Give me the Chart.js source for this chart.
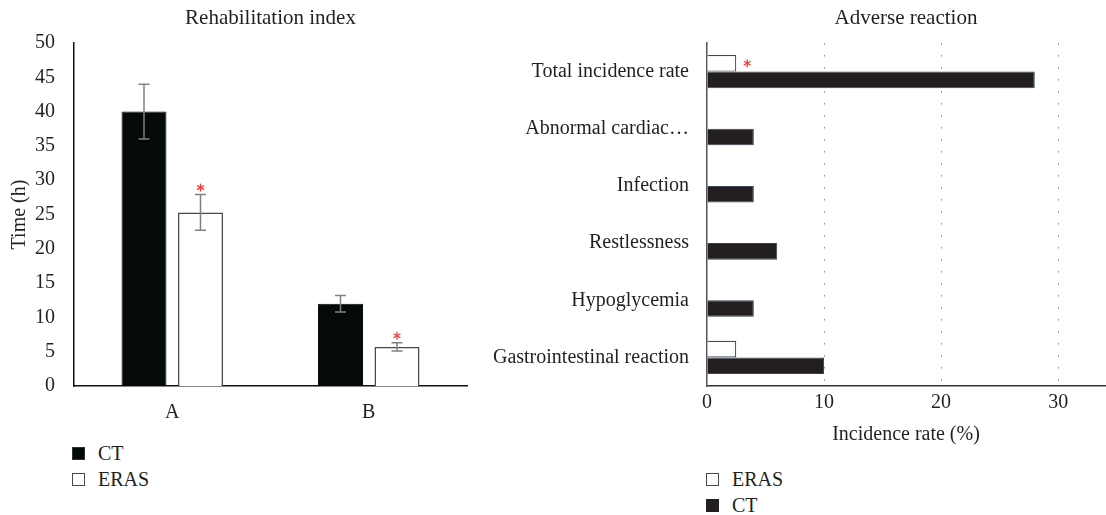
<!DOCTYPE html>
<html lang="en">
<head>
<meta charset="UTF-8">
<title>Rehabilitation index / Adverse reaction</title>
<script src="https://cdn.jsdelivr.net/npm/chart.js"></script>
<style>
  body { margin: 0; background: #fff; }
  .panel { position: absolute; top: 0; }
  .legend { position: absolute; font: 20px "Liberation Serif", serif; color: #231f20; }
  .legend div { display: flex; align-items: center; height: 26px; }
  .legend span.box { width: 11px; height: 11px; border: 1.5px solid #3e4b56; margin-right: 13px; }
</style>
</head>
<body>
<div class="panel" style="left:0; width:480px; height:425px;"><canvas id="rehabChart"></canvas></div>
<div class="panel" style="left:480px; width:626px; height:450px;"><canvas id="adverseChart"></canvas></div>
<div class="legend" id="rehabLegend" style="left:72px; top:440px;"></div>
<div class="legend" id="adverseLegend" style="left:706px; top:466px;"></div>

<script>
// Rehabilitation index (hours)
const rehabCategories = ['A', 'B'];
const rehabCT = [40, 12];
const rehabCTErr = [4, 1.2];
const rehabERAS = [25.3, 5.7];
const rehabERASErr = [2.6, 0.6];
const rehabERASSig = [true, true];
const rehabTicks = [0, 5, 10, 15, 20, 25, 30, 35, 40, 45, 50];

// Adverse reaction (%)
const adverseCategories = ['Total incidence rate', 'Abnormal cardiac…', 'Infection', 'Restlessness', 'Hypoglycemia', 'Gastrointestinal reaction'];
const adverseERAS = [2.5, 0, 0, 0, 0, 2.5];
const adverseCT = [28, 4, 4, 6, 4, 10];
const adverseERASSig = [true, false, false, false, false, false];
const adverseTicks = [0, 10, 20, 30];

const FONT = '"Liberation Serif", serif';
const TEXT = '#231f20';

// red six-armed asterisk
function drawStar(ctx, x, y) {
  ctx.save();
  ctx.strokeStyle = '#e8412f';
  ctx.lineWidth = 1.3;
  const r = 4;
  for (let k = 0; k < 3; k++) {
    const a = Math.PI / 2 + k * Math.PI / 3;
    ctx.beginPath();
    ctx.moveTo(x - r * Math.cos(a), y - r * Math.sin(a));
    ctx.lineTo(x + r * Math.cos(a), y + r * Math.sin(a));
    ctx.stroke();
  }
  ctx.restore();
}

// error bars + significance marks
const errorBars = {
  id: 'errorBars',
  afterDatasetsDraw(chart) {
    const ctx = chart.ctx;
    const horizontal = chart.options.indexAxis === 'y';
    const vScale = horizontal ? chart.scales.x : chart.scales.y;
    chart.data.datasets.forEach((ds, i) => {
      const meta = chart.getDatasetMeta(i);
      meta.data.forEach((bar, j) => {
        const v = ds.data[j];
        let sx = bar.x, sy = bar.y;
        if (ds.errors) {
          const hi = vScale.getPixelForValue(v + ds.errors[j]);
          const lo = vScale.getPixelForValue(v - ds.errors[j]);
          ctx.save();
          ctx.strokeStyle = '#808080';
          ctx.lineWidth = 1.5;
          ctx.beginPath();
          ctx.moveTo(bar.x, hi); ctx.lineTo(bar.x, lo);
          ctx.moveTo(bar.x - 5.5, hi); ctx.lineTo(bar.x + 5.5, hi);
          ctx.moveTo(bar.x - 5.5, lo); ctx.lineTo(bar.x + 5.5, lo);
          ctx.stroke();
          ctx.restore();
          sy = hi - 7;
        } else if (horizontal) {
          sx = bar.x + 11;
        }
        if (ds.sig && ds.sig[j]) drawStar(ctx, sx, sy);
      });
    });
  }
};

function titleOpts(text) {
  return {
    display: true, text: text, fullSize: false, color: TEXT,
    font: { family: FONT, size: 21, weight: 'normal' },
    padding: { top: 5.4, bottom: 12.4 }
  };
}

function buildLegend(chart, id) {
  const el = document.getElementById(id);
  chart.data.datasets.forEach(ds => {
    const row = document.createElement('div');
    const box = document.createElement('span');
    box.className = 'box';
    box.style.background = ds.backgroundColor;
    box.style.borderColor = ds.legendBorder;
    row.appendChild(box);
    row.appendChild(document.createTextNode(ds.label));
    el.appendChild(row);
  });
}

Chart.defaults.font.family = FONT;
Chart.defaults.color = TEXT;

const rehabChart = new Chart(document.getElementById('rehabChart'), {
  type: 'bar',
  data: {
    labels: rehabCategories,
    datasets: [
      { label: 'CT', data: rehabCT, errors: rehabCTErr, backgroundColor: '#040909', borderColor: '#040909', legendBorder: '#2a3138', borderWidth: 1 },
      { label: 'ERAS', data: rehabERAS, errors: rehabERASErr, sig: rehabERASSig, backgroundColor: '#ffffff', borderColor: '#3e4b56', legendBorder: '#3e4b56', borderWidth: 1.5 }
    ]
  },
  options: {
    responsive: true, maintainAspectRatio: false, animation: false,
    categoryPercentage: 0.575, barPercentage: 0.796,
    layout: { padding: { left: 0, right: 13, top: 0, bottom: 0 } },
    plugins: { legend: { display: false }, tooltip: { enabled: false }, title: titleOpts('Rehabilitation index') },
    scales: {
      x: {
        grid: { display: false },
        border: { color: '#111', width: 1.5 },
        ticks: { padding: 7, font: { size: 20 } },
        afterFit: s => { s.height = 39; }
      },
      y: {
        min: 0, max: 50,
        grid: { display: false },
        border: { color: '#111', width: 1.5 },
        afterBuildTicks: s => { s.ticks = rehabTicks.map(v => ({ value: v })); },
        ticks: { padding: 11, font: { size: 20 } },
        title: { display: true, text: 'Time (h)', font: { size: 20 }, padding: { top: 8, bottom: 0 } },
        afterFit: s => { s.width = 74; }
      }
    }
  },
  plugins: [errorBars]
});

const adverseChart = new Chart(document.getElementById('adverseChart'), {
  type: 'bar',
  data: {
    labels: adverseCategories,
    datasets: [
      { label: 'ERAS', data: adverseERAS, sig: adverseERASSig, backgroundColor: '#ffffff', borderColor: '#3b4b5b', legendBorder: '#3e4b56',
        borderWidth: c => (c.raw === 0 ? 0 : 1.2) },
      { label: 'CT', data: adverseCT, backgroundColor: '#231f20', borderColor: '#34434f', legendBorder: '#231f20', borderWidth: 1 }
    ]
  },
  options: {
    indexAxis: 'y',
    responsive: true, maintainAspectRatio: false, animation: false,
    categoryPercentage: 0.58, barPercentage: 1,
    layout: { padding: { left: 0, right: 1, top: 0, bottom: 0 } },
    plugins: { legend: { display: false }, tooltip: { enabled: false }, title: titleOpts('Adverse reaction') },
    scales: {
      x: {
        min: 0, max: 34,
        grid: {
          drawTicks: false, lineWidth: 1,
          color: c => (c.tick && c.tick.value === 0 ? 'rgba(0,0,0,0)' : '#8c8c8c')
        },
        border: { color: '#333', width: 1.5, dash: [1.5, 10.5] },
        afterBuildTicks: s => { s.ticks = adverseTicks.map(v => ({ value: v })); },
        ticks: { padding: 5, font: { size: 20 } },
        title: { display: true, text: 'Incidence rate (%)', font: { size: 20 }, padding: { top: 0, bottom: 3 } },
        afterFit: s => { s.height = 64; }
      },
      y: {
        grid: { display: false },
        border: { color: '#555', width: 1.5 },
        ticks: { padding: 10, font: { size: 20 } },
        afterFit: s => { s.width = 227; }
      }
    }
  },
  plugins: [errorBars]
});

buildLegend(rehabChart, 'rehabLegend');
buildLegend(adverseChart, 'adverseLegend');
</script>
</body>
</html>
